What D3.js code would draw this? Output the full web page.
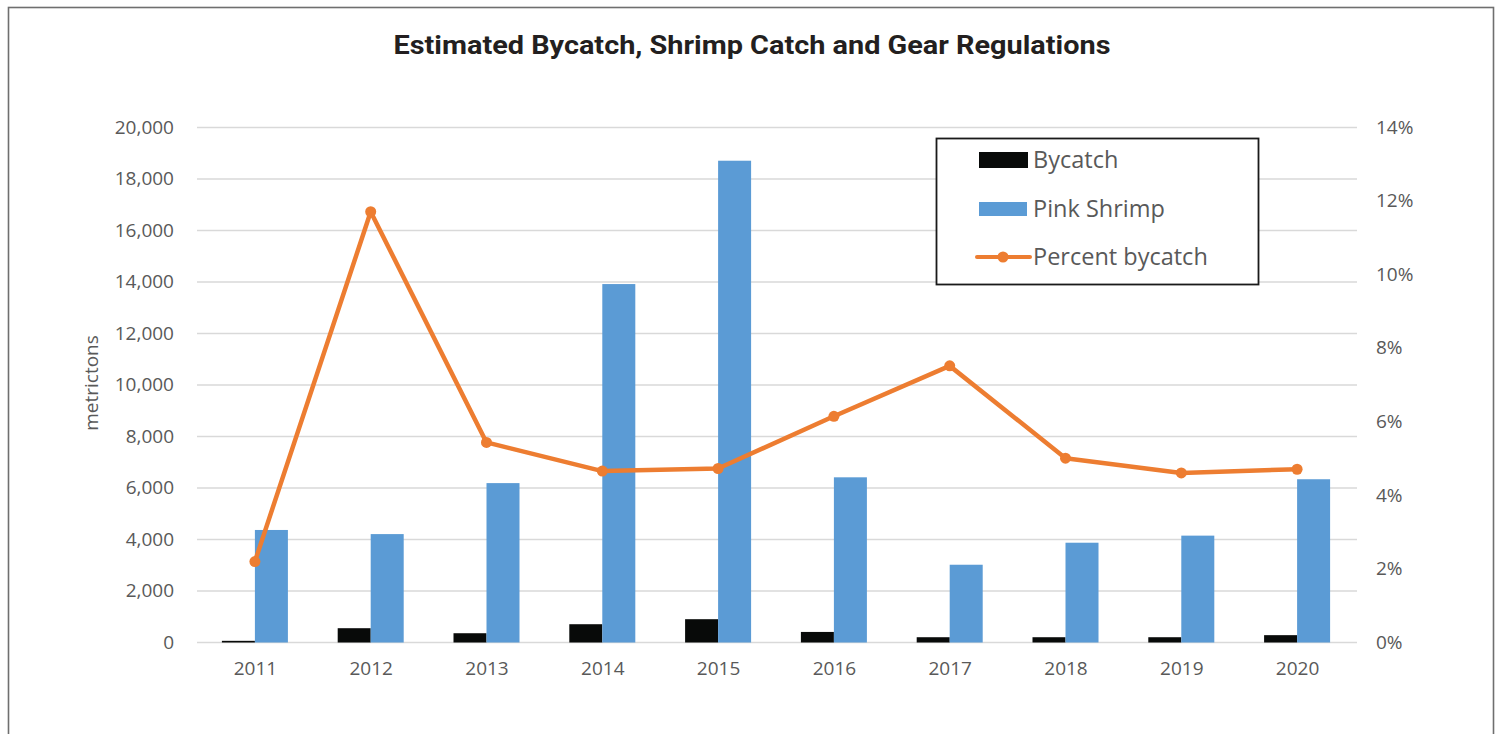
<!DOCTYPE html>
<html>
<head>
<meta charset="utf-8">
<script src="https://cdn.jsdelivr.net/npm/d3@7"></script>
<style>
  html, body { margin: 0; padding: 0; background: #fff; }
  svg { display: block; }
</style>
</head>
<body>
<svg id="chart" width="1501" height="734"></svg>
<script>
const years = ["2011","2012","2013","2014","2015","2016","2017","2018","2019","2020"];
const bycatch = [65, 555, 360, 710, 905, 410, 205, 205, 205, 285];
const pinkShrimp = [4370, 4210, 6190, 13920, 18710, 6415, 3020, 3875, 4150, 6340];
const percentBycatch = [2.20, 11.71, 5.44, 4.66, 4.73, 6.15, 7.52, 5.01, 4.61, 4.71];
const leftTicks = [0, 2000, 4000, 6000, 8000, 10000, 12000, 14000, 16000, 18000, 20000];
const rightTicks = [0, 2, 4, 6, 8, 10, 12, 14];
const seriesNames = ["Bycatch", "Pink Shrimp", "Percent bycatch"];
const titleText = "Estimated Bycatch, Shrimp Catch and Gear Regulations";
const yAxisTitle = "metrictons";

const svg = d3.select("#chart");
const plot = { left: 197, right: 1355, top: 127.5, bottom: 642.5 };
const font = "'Open Sans', 'Noto Sans', sans-serif";
const textGray = "#595959";

// outer frame
svg.append("rect").attr("x", 8.5).attr("y", 7.5).attr("width", 1485).attr("height", 760)
  .attr("fill", "#fff").attr("stroke", "#6f6f6f").attr("stroke-width", 1.6);

// title
svg.append("text").attr("x", 752).attr("y", 54).attr("text-anchor", "middle")
  .attr("font-family", "'Roboto', 'Liberation Sans', sans-serif").attr("font-weight", "bold")
  .attr("font-size", 26).attr("fill", "#231f20")
  .attr("textLength", 717).attr("lengthAdjust", "spacingAndGlyphs")
  .text(titleText);

const x0 = d3.scaleBand().domain(years).range([plot.left, plot.right]).paddingInner(0.43).paddingOuter(0.215);
const x1 = d3.scaleBand().domain(["Bycatch", "Pink Shrimp"]).range([0, x0.bandwidth()]);
const xc = d3.scalePoint().domain(years).range([plot.left, plot.right]).padding(0.5);
const yL = d3.scaleLinear().domain([0, 20000]).range([plot.bottom, plot.top]);
const yR = d3.scaleLinear().domain([0, 14]).range([plot.bottom, plot.top]);

// gridlines
svg.append("g").selectAll("line").data(leftTicks).join("line")
  .attr("x1", plot.left).attr("x2", plot.right + 2)
  .attr("y1", d => yL(d)).attr("y2", d => yL(d))
  .attr("stroke", "#d9d9d9").attr("stroke-width", 1.3);

// left axis
const leftAxis = d3.axisLeft(yL).tickValues(leftTicks).tickSize(0).tickPadding(0)
  .tickFormat(d3.format(","));
const gL = svg.append("g").attr("transform", `translate(174,0)`).call(leftAxis);
gL.select(".domain").remove();
gL.selectAll("text").attr("font-family", font).attr("font-size", 19).attr("fill", textGray)
  .attr("dy", "0.3em");

// right axis
const rightAxis = d3.axisRight(yR).tickValues(rightTicks).tickSize(0).tickPadding(0)
  .tickFormat(d => d + "%");
const gR = svg.append("g").attr("transform", `translate(1376,0)`).call(rightAxis);
gR.select(".domain").remove();
gR.selectAll("text").attr("font-family", font).attr("font-size", 19).attr("fill", textGray)
  .attr("dy", "0.3em");

// bottom axis
const bottomAxis = d3.axisBottom(xc).tickSize(0).tickPadding(0);
const gB = svg.append("g").attr("transform", `translate(0,${plot.bottom + 19})`).call(bottomAxis);
gB.select(".domain").remove();
gB.selectAll("text").attr("font-family", font).attr("font-size", 19).attr("fill", textGray)
  .attr("dy", "0.71em");

// y axis title
svg.append("text").attr("transform", `translate(98,383) rotate(-90)`).attr("text-anchor", "middle")
  .attr("font-family", font).attr("font-size", 19).attr("fill", textGray).text(yAxisTitle);

// bars
const barData = years.map((y, i) => ({ year: y, vals: [
  { key: "Bycatch", v: bycatch[i] }, { key: "Pink Shrimp", v: pinkShrimp[i] }] }));
const colors = { "Bycatch": "#080a09", "Pink Shrimp": "#5b9bd5" };
svg.append("g").selectAll("g").data(barData).join("g")
  .attr("transform", d => `translate(${x0(d.year)},0)`)
  .selectAll("rect").data(d => d.vals).join("rect")
  .attr("x", d => x1(d.key)).attr("width", x1.bandwidth())
  .attr("y", d => yL(d.v)).attr("height", d => yL(0) - yL(d.v))
  .attr("fill", d => colors[d.key]);

// line
const orange = "#ed7d31";
const lineGen = d3.line().x((d, i) => xc(years[i])).y(d => yR(d));
svg.append("path").datum(percentBycatch).attr("d", lineGen)
  .attr("fill", "none").attr("stroke", orange).attr("stroke-width", 4.5).attr("stroke-linejoin", "round");
svg.append("g").selectAll("circle").data(percentBycatch).join("circle")
  .attr("cx", (d, i) => xc(years[i])).attr("cy", d => yR(d)).attr("r", 5.5).attr("fill", orange);

// legend
const lg = svg.append("g");
lg.append("rect").attr("x", 936.5).attr("y", 138.5).attr("width", 322).attr("height", 146)
  .attr("fill", "#fff").attr("stroke", "#1a1a1a").attr("stroke-width", 1.8);
const legendY = [160, 209, 257];
lg.append("rect").attr("x", 979).attr("y", legendY[0] - 8).attr("width", 49).attr("height", 16).attr("fill", colors["Bycatch"]);
lg.append("rect").attr("x", 979).attr("y", legendY[1] - 7).attr("width", 48).attr("height", 14).attr("fill", colors["Pink Shrimp"]);
lg.append("line").attr("x1", 977).attr("x2", 1030).attr("y1", legendY[2]).attr("y2", legendY[2])
  .attr("stroke", orange).attr("stroke-width", 4).attr("stroke-linecap", "round");
lg.append("circle").attr("cx", 1003).attr("cy", legendY[2]).attr("r", 5.5).attr("fill", orange);
lg.selectAll("text.lt").data(seriesNames).join("text").attr("class", "lt")
  .attr("x", 1033).attr("y", (d, i) => legendY[i]).attr("dy", "0.35em")
  .attr("font-family", font).attr("font-size", 23.5).attr("fill", textGray).text(d => d);
</script>
</body>
</html>
